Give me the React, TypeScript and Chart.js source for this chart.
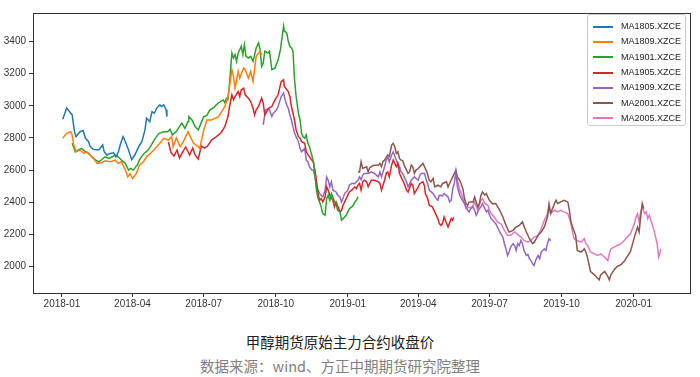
import React, { useEffect, useRef } from "react";
import { Chart, registerables } from "chart.js";

Chart.register(...registerables);

// x values: days since 2018-01-01
const tickDays = [0, 90, 181, 273, 365, 455, 546, 638, 730];
const tickLabels = ["2018-01", "2018-04", "2018-07", "2018-10", "2019-01", "2019-04", "2019-07", "2019-10", "2020-01"];
const yTicks = [2000, 2200, 2400, 2600, 2800, 3000, 3200, 3400];

const seriesNames = ["MA1805.XZCE", "MA1809.XZCE", "MA1901.XZCE", "MA1905.XZCE", "MA1909.XZCE", "MA2001.XZCE", "MA2005.XZCE"];
const seriesColors = ["#1f77b4", "#ff7f0e", "#2ca02c", "#d62728", "#9467bd", "#8c564b", "#e377c2"];

const ma1805Days = [1, 6, 11, 13, 16, 18, 23, 27, 30, 34, 36, 40, 47, 52, 54, 57, 62, 66, 69, 72, 75, 78, 81, 85, 89, 93, 98, 102, 106, 108, 112, 115, 118, 121, 125, 127, 130, 133, 134];
const ma1805Close = [2917, 2987, 2956, 2944, 2839, 2808, 2839, 2846, 2798, 2777, 2746, 2729, 2725, 2756, 2714, 2694, 2704, 2708, 2683, 2714, 2767, 2808, 2777, 2725, 2665, 2694, 2746, 2777, 2850, 2923, 2902, 2964, 2954, 2986, 3006, 2996, 3006, 2975, 2933];

const ma1809Days = [1, 6, 11, 13, 15, 18, 23, 28, 32, 36, 40, 45, 51, 55, 62, 68, 72, 76, 81, 84, 87, 90, 95, 99, 104, 108, 113, 119, 125, 130, 136, 140, 142, 146, 151, 155, 161, 168, 174, 176, 181, 185, 191, 200, 204, 208, 212, 217, 219, 221, 225, 227, 232, 234, 238, 241, 244, 248, 253, 255];
const ma1809Close = [2798, 2829, 2839, 2819, 2756, 2714, 2725, 2704, 2714, 2694, 2673, 2642, 2646, 2658, 2652, 2662, 2642, 2652, 2600, 2558, 2579, 2548, 2579, 2631, 2652, 2683, 2704, 2735, 2767, 2798, 2787, 2808, 2746, 2800, 2746, 2777, 2839, 2767, 2746, 2735, 2850, 2912, 2912, 2933, 2964, 2996, 3058, 3225, 3183, 3110, 3214, 3173, 3235, 3225, 3173, 3214, 3152, 3308, 3340, 3319];

const ma1901Days = [13, 17, 21, 25, 30, 34, 38, 43, 47, 51, 55, 60, 64, 68, 72, 76, 81, 85, 88, 91, 96, 100, 105, 110, 114, 119, 124, 130, 135, 138, 141, 146, 150, 153, 157, 161, 162, 166, 170, 174, 181, 185, 189, 193, 197, 202, 206, 208, 210, 212, 214, 217, 219, 221, 223, 225, 227, 229, 231, 233, 235, 238, 241, 244, 248, 251, 253, 255, 257, 259, 263, 265, 268, 272, 276, 279, 281, 283, 284, 287, 289, 291, 293, 295, 297, 299, 302, 304, 306, 308, 310, 312, 314, 316, 319, 321, 323, 325, 327, 329, 331, 333, 336, 338, 340, 342, 344, 346, 348, 350, 352, 355, 357, 359, 361, 363, 365, 367, 370, 372, 374, 376, 378];
const ma1901Close = [2767, 2714, 2725, 2735, 2714, 2704, 2683, 2662, 2652, 2666, 2683, 2673, 2683, 2694, 2683, 2662, 2642, 2600, 2610, 2600, 2631, 2673, 2704, 2725, 2756, 2798, 2829, 2839, 2839, 2854, 2819, 2840, 2871, 2892, 2860, 2902, 2933, 2912, 2871, 2850, 2933, 2940, 2975, 2985, 3006, 3027, 3037, 3020, 3048, 3040, 3142, 3329, 3298, 3319, 3277, 3329, 3350, 3371, 3319, 3381, 3308, 3298, 3308, 3277, 3360, 3392, 3350, 3246, 3267, 3340, 3329, 3340, 3225, 3235, 3287, 3350, 3423, 3496, 3465, 3454, 3402, 3371, 3360, 3340, 3162, 3058, 2954, 2912, 2829, 2808, 2798, 2819, 2767, 2746, 2694, 2652, 2579, 2475, 2423, 2402, 2371, 2329, 2319, 2423, 2444, 2412, 2454, 2433, 2402, 2392, 2350, 2340, 2288, 2298, 2308, 2319, 2340, 2360, 2371, 2381, 2402, 2412, 2433];

const ma1905Days = [136, 139, 143, 147, 150, 154, 158, 163, 167, 170, 174, 178, 182, 186, 191, 195, 200, 204, 208, 212, 214, 217, 219, 221, 225, 227, 229, 232, 234, 238, 241, 244, 246, 248, 251, 255, 257, 259, 264, 268, 272, 276, 280, 283, 284, 289, 291, 293, 295, 297, 299, 302, 304, 306, 310, 312, 316, 319, 321, 323, 325, 327, 329, 331, 333, 336, 338, 340, 342, 346, 348, 350, 355, 357, 359, 361, 363, 365, 367, 370, 374, 376, 378, 380, 382, 384, 386, 389, 391, 395, 399, 404, 406, 408, 412, 414, 416, 418, 421, 423, 427, 429, 431, 433, 435, 437, 440, 442, 446, 448, 450, 455, 457, 461, 463, 464, 467, 469, 473, 476, 480, 482, 484, 486, 488, 493, 497, 499, 500];
const ma1905Close = [2775, 2712, 2687, 2725, 2675, 2712, 2744, 2694, 2737, 2694, 2669, 2750, 2737, 2750, 2787, 2800, 2819, 2839, 2871, 2933, 2996, 3069, 3037, 3058, 3089, 3058, 3100, 3110, 3069, 3048, 3027, 2985, 2944, 2975, 2996, 3048, 3017, 2944, 2985, 2996, 3037, 3069, 3152, 3162, 3121, 3089, 3058, 2996, 2954, 2912, 2850, 2808, 2798, 2777, 2767, 2714, 2683, 2662, 2650, 2600, 2537, 2454, 2412, 2423, 2402, 2433, 2496, 2475, 2444, 2412, 2371, 2402, 2340, 2350, 2381, 2402, 2423, 2444, 2464, 2475, 2496, 2485, 2506, 2517, 2475, 2527, 2537, 2527, 2496, 2537, 2537, 2527, 2517, 2475, 2537, 2579, 2589, 2558, 2631, 2662, 2621, 2642, 2579, 2558, 2537, 2517, 2475, 2464, 2517, 2506, 2454, 2496, 2517, 2527, 2500, 2454, 2423, 2381, 2371, 2340, 2298, 2267, 2256, 2267, 2308, 2246, 2298, 2288, 2308];

const ma1909Days = [257, 260, 263, 265, 268, 270, 274, 276, 280, 283, 285, 287, 289, 291, 293, 295, 297, 299, 302, 304, 306, 310, 312, 314, 316, 319, 321, 323, 325, 327, 329, 333, 336, 338, 340, 342, 344, 346, 350, 352, 355, 357, 361, 365, 367, 370, 374, 376, 378, 380, 382, 384, 386, 391, 395, 399, 404, 406, 408, 412, 414, 416, 418, 421, 423, 427, 431, 433, 435, 437, 440, 442, 446, 450, 455, 457, 459, 463, 466, 467, 469, 474, 478, 480, 482, 486, 488, 493, 495, 497, 499, 501, 503, 505, 508, 510, 514, 516, 518, 520, 522, 525, 527, 529, 533, 535, 537, 540, 542, 544, 546, 548, 552, 554, 556, 559, 563, 565, 567, 569, 571, 573, 576, 578, 580, 582, 584, 586, 588, 590, 593, 595, 597, 599, 601, 603, 605, 608, 610, 612, 616, 618, 620, 622, 624];
const ma1909Close = [2881, 2975, 2980, 2975, 2933, 2954, 2975, 2996, 3058, 3079, 3037, 3006, 2985, 2944, 2912, 2871, 2829, 2808, 2777, 2735, 2714, 2735, 2662, 2652, 2621, 2600, 2600, 2558, 2496, 2475, 2454, 2433, 2475, 2558, 2537, 2496, 2527, 2475, 2464, 2444, 2433, 2402, 2454, 2475, 2506, 2517, 2517, 2527, 2537, 2558, 2540, 2569, 2579, 2579, 2589, 2579, 2558, 2589, 2558, 2621, 2662, 2683, 2652, 2694, 2714, 2662, 2621, 2589, 2579, 2558, 2527, 2496, 2537, 2558, 2537, 2569, 2579, 2579, 2527, 2517, 2475, 2454, 2423, 2412, 2444, 2440, 2454, 2433, 2402, 2412, 2485, 2517, 2589, 2496, 2444, 2423, 2392, 2371, 2350, 2340, 2360, 2371, 2350, 2319, 2360, 2371, 2392, 2360, 2340, 2350, 2319, 2298, 2277, 2267, 2246, 2215, 2183, 2142, 2110, 2069, 2090, 2121, 2142, 2131, 2100, 2142, 2131, 2162, 2143, 2100, 2069, 2075, 2048, 2037, 2017, 2006, 2040, 2069, 2048, 2090, 2110, 2100, 2142, 2173, 2160];

const ma2001Days = [378, 380, 382, 384, 386, 389, 391, 393, 395, 399, 404, 406, 408, 410, 412, 416, 418, 421, 423, 425, 427, 429, 431, 433, 435, 437, 440, 442, 444, 446, 448, 450, 452, 455, 459, 461, 463, 466, 469, 471, 474, 476, 480, 484, 486, 491, 493, 495, 497, 499, 501, 503, 505, 508, 512, 514, 516, 518, 520, 525, 527, 531, 533, 535, 537, 540, 542, 544, 546, 550, 554, 559, 563, 567, 571, 576, 580, 584, 588, 593, 597, 601, 603, 608, 612, 616, 620, 622, 624, 629, 631, 633, 637, 641, 646, 648, 650, 652, 656, 658, 663, 667, 669, 671, 675, 680, 684, 686, 688, 693, 697, 699, 701, 705, 709, 714, 718, 722, 726, 731, 735, 737, 739, 741, 743];
const ma2001Close = [2589, 2589, 2652, 2610, 2615, 2621, 2589, 2615, 2621, 2631, 2631, 2642, 2621, 2655, 2662, 2694, 2685, 2756, 2767, 2746, 2704, 2714, 2673, 2662, 2660, 2631, 2600, 2579, 2590, 2631, 2620, 2579, 2600, 2610, 2631, 2642, 2621, 2589, 2537, 2527, 2548, 2496, 2506, 2496, 2517, 2527, 2496, 2517, 2537, 2558, 2579, 2600, 2558, 2537, 2485, 2423, 2392, 2381, 2402, 2402, 2433, 2371, 2392, 2444, 2464, 2444, 2454, 2430, 2410, 2390, 2392, 2350, 2308, 2256, 2215, 2225, 2246, 2256, 2277, 2215, 2173, 2142, 2150, 2194, 2215, 2246, 2308, 2381, 2329, 2392, 2412, 2392, 2402, 2412, 2402, 2350, 2277, 2246, 2194, 2100, 2090, 2110, 2090, 2058, 1969, 1948, 1927, 1917, 1948, 1969, 1938, 1917, 1948, 1979, 2000, 2011, 2032, 2063, 2094, 2183, 2246, 2215, 2308, 2392, 2360];

const ma2005Days = [501, 503, 505, 508, 510, 514, 516, 518, 522, 525, 527, 531, 533, 535, 537, 540, 544, 546, 548, 552, 556, 561, 565, 569, 573, 578, 582, 586, 590, 595, 599, 603, 608, 612, 616, 620, 622, 624, 629, 633, 637, 641, 646, 650, 652, 654, 658, 663, 667, 669, 671, 675, 680, 684, 688, 693, 697, 699, 701, 705, 709, 714, 718, 722, 726, 731, 733, 735, 737, 739, 741, 744, 746, 748, 750, 752, 756, 760, 762, 765];
const ma2005Close = [2579, 2589, 2537, 2475, 2454, 2392, 2360, 2371, 2365, 2381, 2402, 2350, 2381, 2412, 2423, 2392, 2381, 2350, 2330, 2308, 2277, 2262, 2225, 2194, 2194, 2215, 2200, 2183, 2162, 2152, 2162, 2183, 2194, 2235, 2288, 2329, 2392, 2329, 2350, 2340, 2350, 2340, 2329, 2267, 2215, 2173, 2162, 2152, 2173, 2142, 2131, 2090, 2079, 2069, 2079, 2058, 2037, 2079, 2110, 2121, 2131, 2142, 2162, 2183, 2204, 2267, 2308, 2329, 2277, 2340, 2371, 2329, 2340, 2298, 2319, 2288, 2225, 2142, 2058, 2110];

const seriesDays = [ma1805Days, ma1809Days, ma1901Days, ma1905Days, ma1909Days, ma2001Days, ma2005Days];
const seriesClose = [ma1805Close, ma1809Close, ma1901Close, ma1905Close, ma1909Close, ma2001Close, ma2005Close];

const titleText = "甲醇期货原始主力合约收盘价";
const sourceText = "数据来源：wind、方正中期期货研究院整理";

const framePlugin = {
  id: "frameBox",
  afterDraw(chart: any) {
    const { ctx, chartArea } = chart;
    ctx.save();
    ctx.strokeStyle = "#333";
    ctx.lineWidth = 1;
    ctx.strokeRect(Math.round(chartArea.left) + 0.5, Math.round(chartArea.top) + 0.5, Math.round(chartArea.right - chartArea.left), Math.round(chartArea.bottom - chartArea.top));
    ctx.restore();
  },
};

export default function App() {
  const canvasRef = useRef<HTMLCanvasElement | null>(null);

  useEffect(() => {
    if (!canvasRef.current) return;
    const datasets = seriesNames.map((name, i) => ({
      label: name,
      data: seriesDays[i].map((d, j) => ({ x: d, y: seriesClose[i][j] })),
      borderColor: seriesColors[i],
      backgroundColor: seriesColors[i],
      borderWidth: 1.5,
      pointRadius: 0,
      tension: 0,
      fill: false,
    }));
    const chart = new Chart(canvasRef.current, {
      type: "line",
      data: { datasets },
      plugins: [framePlugin],
      options: {
        animation: false,
        responsive: false,
        devicePixelRatio: 1,
        layout: { padding: { top: 13, right: 10, left: 0, bottom: 0 } },
        plugins: { legend: { display: false }, tooltip: { enabled: false }, title: { display: false } },
        scales: {
          x: {
            type: "linear",
            min: -37,
            max: 802,
            afterBuildTicks: (axis: any) => {
              axis.ticks = tickDays.map((v) => ({ value: v }));
            },
            afterFit: (scale: any) => {
              scale.height = 27;
            },
            ticks: {
              autoSkip: false,
              maxRotation: 0,
              padding: 1,
              color: "#333",
              font: { family: "Liberation Sans", size: 10 },
              callback: (value: any) => {
                const idx = tickDays.indexOf(Number(value));
                return idx >= 0 ? tickLabels[idx] : "";
              },
            },
            grid: { drawOnChartArea: false, drawTicks: true, tickLength: 4, color: "#333" },
            border: { display: false },
          },
          y: {
            type: "linear",
            min: 1835,
            max: 3578,
            afterBuildTicks: (axis: any) => {
              axis.ticks = yTicks.map((v) => ({ value: v }));
            },
            afterFit: (scale: any) => {
              scale.width = 33;
            },
            ticks: {
              padding: 3,
              color: "#333",
              font: { family: "Liberation Sans", size: 10 },
              callback: (value: any) => String(value),
            },
            grid: { drawOnChartArea: false, drawTicks: true, tickLength: 4, color: "#333" },
            border: { display: false },
          },
        },
      },
    });
    return () => chart.destroy();
  }, []);

  return (
    <div style={{ position: "fixed", left: 0, top: 0, width: 700, height: 377, background: "#fff", overflow: "hidden" }}>
      <canvas ref={canvasRef} width={700} height={320} style={{ position: "absolute", left: 0, top: 0, width: 700, height: 320 }} />
      <div
        style={{
          position: "absolute",
          left: 587,
          top: 14,
          width: 99,
          height: 112,
          boxSizing: "border-box",
          border: "1px solid #ccc",
          borderRadius: 3,
          background: "rgba(255,255,255,0.85)",
          paddingTop: 4,
        }}
      >
        {seriesNames.map((name, i) => (
          <div key={name} style={{ height: 15.3, display: "flex", alignItems: "center" }}>
            <div style={{ width: 20, height: 2, background: seriesColors[i], marginLeft: 5, marginRight: 8 }} />
            <span style={{ fontFamily: "Liberation Sans", fontSize: 9, color: "#222", lineHeight: 1 }}>{name}</span>
          </div>
        ))}
      </div>
      <div
        style={{
          position: "absolute",
          left: 0,
          width: 680,
          top: 334,
          textAlign: "center",
          fontFamily: "'Noto Sans CJK SC', sans-serif",
          fontSize: 14.5,
          lineHeight: "15px",
          color: "#222",
        }}
      >
        {titleText}
      </div>
      <div
        style={{
          position: "absolute",
          left: 0,
          width: 680,
          top: 358,
          textAlign: "center",
          fontFamily: "'Noto Sans CJK SC', sans-serif",
          fontSize: 14.5,
          lineHeight: "15px",
          color: "#808080",
        }}
      >
        {sourceText}
      </div>
    </div>
  );
}
